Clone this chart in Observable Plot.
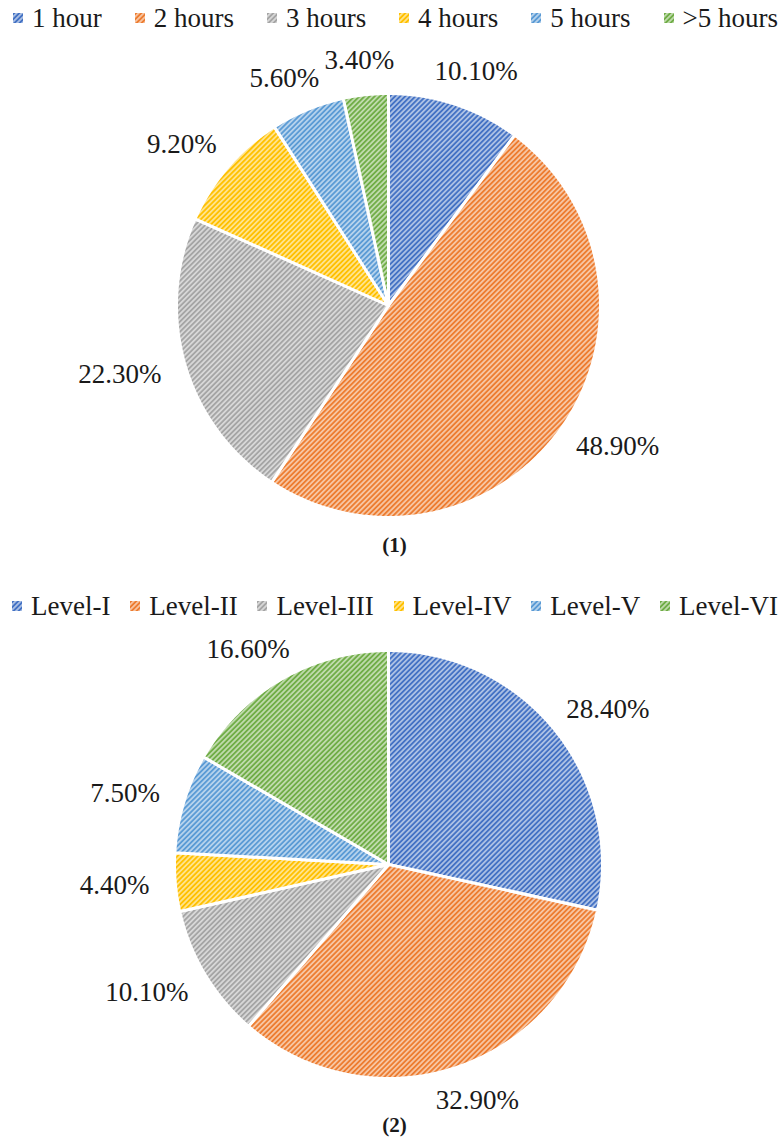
<!DOCTYPE html>
<html>
<head>
<meta charset="utf-8">
<script src="https://cdn.jsdelivr.net/npm/d3@7"></script>
<script src="https://cdn.jsdelivr.net/npm/@observablehq/plot@0.6"></script>
<style>
  body { margin: 0; background: #fff; width: 781px; font-family: "Liberation Serif", "Times New Roman", serif; color: #1a1a1a; }
  .legend { display: flex; justify-content: space-between; align-items: center; height: 36px; font-size: 27px; white-space: nowrap; box-sizing: border-box; }
  .legend .item { display: flex; align-items: center; }
  .legend .item svg { margin-right: 9px; }
  .caption { text-align: center; font-weight: bold; font-size: 21px; height: 38px; line-height: 38px; padding-left: 8px; box-sizing: border-box; }
  svg.plot { display: block; overflow: visible; }
</style>
</head>
<body>
<svg width="0" height="0" style="position:absolute">
  <defs id="hatches"></defs>
</svg>
<div id="root"></div>
<script>
// Daily duration shares (%)
const durationCategories = ["1 hour", "2 hours", "3 hours", "4 hours", "5 hours", ">5 hours"];
const durationShares = [10.1, 48.9, 22.3, 9.2, 5.6, 3.4];

// Level shares (%)
const levelCategories = ["Level-I", "Level-II", "Level-III", "Level-IV", "Level-V", "Level-VI"];
const levelShares = [28.4, 32.9, 10.1, 4.4, 7.5, 16.6];

// Slice palette (shared by both pies)
const sliceColors = ["#4472C4", "#ED7D31", "#A5A5A5", "#FFC000", "#5B9BD5", "#70AD47"];

// Diagonal hatch patterns, one per palette colour
const defs = d3.select("#hatches");
sliceColors.forEach((c, i) => {
  const tint = d3.interpolateRgb(c, "#ffffff")(0.55);
  const p = defs.append("pattern")
    .attr("id", `hatch-${i}`)
    .attr("patternUnits", "userSpaceOnUse")
    .attr("width", 3.6).attr("height", 3.6)
    .attr("patternTransform", "rotate(45)");
  p.append("rect").attr("width", 3.6).attr("height", 3.6).attr("fill", tint);
  p.append("rect").attr("width", 1.8).attr("height", 3.6).attr("fill", c);
});

const root = document.getElementById("root");
const pct = d3.format(".2f");

function legend(categories, padLeft, padRight, marginTop) {
  const div = document.createElement("div");
  div.className = "legend";
  div.style.paddingLeft = padLeft + "px";
  div.style.paddingRight = padRight + "px";
  div.style.marginTop = marginTop + "px";
  categories.forEach((name, i) => {
    const item = document.createElement("div");
    item.className = "item";
    item.innerHTML = `<svg width="10" height="10"><rect width="10" height="10" fill="url(#hatch-${i})"/></svg><span>${name}</span>`;
    div.appendChild(item);
  });
  return div;
}

function pie(categories, shares, {width, height, cx, cy, r, gap}) {
  const arcs = d3.pie().sort(null).value(d => d)(shares);
  // Slice outlines in radius units (y pointing up), 12 o'clock start, clockwise
  const marks = arcs.map((a, i) => {
    const n = Math.max(2, Math.ceil((a.endAngle - a.startAngle) / (Math.PI / 360)));
    const pts = [{x: 0, y: 0}];
    for (let k = 0; k <= n; ++k) {
      const t = a.startAngle + (a.endAngle - a.startAngle) * k / n;
      pts.push({x: Math.sin(t), y: Math.cos(t)});
    }
    return Plot.line(pts, {
      x: "x", y: "y", curve: "linear-closed",
      fill: `url(#hatch-${i})`, stroke: "white", strokeWidth: 3, strokeLinejoin: "round"
    });
  });
  // Outside-end labels along each slice's mid angle
  const fontSize = 27;
  const labels = arcs.map((a, i) => {
    const mid = (a.startAngle + a.endAngle) / 2;
    const ux = Math.sin(mid), uy = Math.cos(mid);
    const text = pct(shares[i]) + "%";
    const hw = fontSize * ((text.length - 2) * 0.5 + 0.25 + 0.833) / 2;
    const hh = fontSize * 0.3;
    return {
      text,
      x: ux * (1 + gap / r) + ux * hw / r,
      y: uy * (1 + gap / r) + uy * hh / r
    };
  });
  marks.push(Plot.text(labels, {
    x: "x", y: "y", text: "text",
    fontSize, fontFamily: "Liberation Serif, Times New Roman, serif", fill: "#1a1a1a"
  }));
  return Plot.plot({
    width, height,
    margin: 0,
    x: {type: "linear", domain: [-cx / r, (width - cx) / r], range: [0, width], axis: null},
    y: {type: "linear", domain: [-(height - cy) / r, cy / r], range: [height, 0], axis: null},
    style: {overflow: "visible", background: "transparent"},
    marks
  });
}

function caption(text) {
  const div = document.createElement("div");
  div.className = "caption";
  div.textContent = text;
  return div;
}

root.appendChild(legend(durationCategories, 13, 3, 0));
root.appendChild(pie(durationCategories, durationShares, {width: 781, height: 490, cx: 388, cy: 269, r: 212, gap: 26}));
root.appendChild(caption("(1)"));

root.appendChild(legend(levelCategories, 12, 3, 24));
root.appendChild(pie(levelCategories, levelShares, {width: 781, height: 482, cx: 388, cy: 240, r: 214, gap: 26}));
root.appendChild(caption("(2)"));
</script>
</body>
</html>
